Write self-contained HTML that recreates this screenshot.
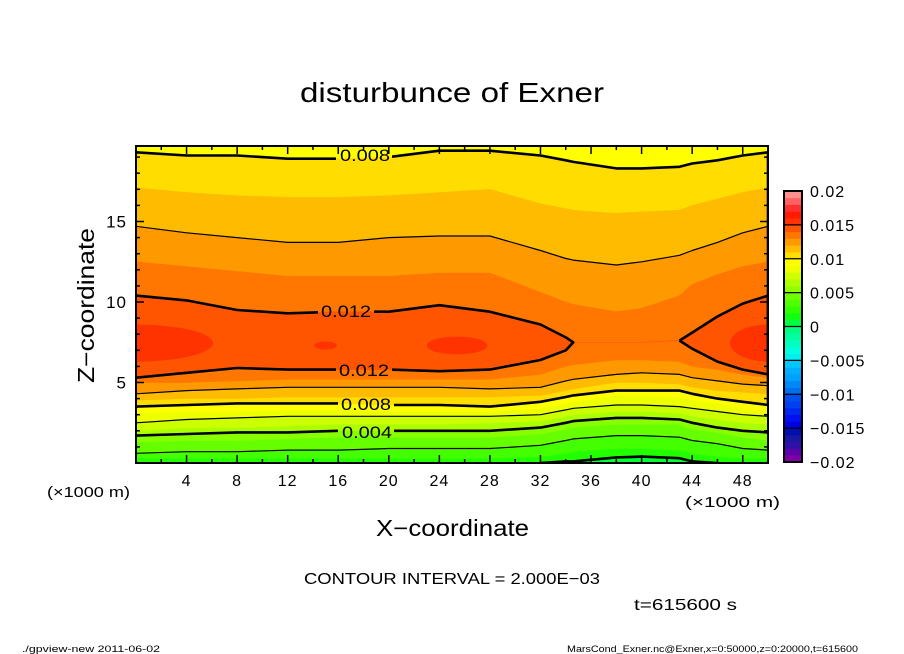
<!DOCTYPE html>
<html><head><meta charset="utf-8"><style>
html,body{margin:0;padding:0;background:#fff;}
svg{display:block;font-family:"Liberation Sans",sans-serif;}
</style></head><body>
<svg id="chart" width="904" height="654" viewBox="0 0 904 654" xmlns="http://www.w3.org/2000/svg">
<rect x="0" y="0" width="904" height="654" fill="#fff"/>
<text x="300" y="102" textLength="304" lengthAdjust="spacingAndGlyphs" font-size="28" fill="#000">disturbunce of Exner</text>
<defs>
<clipPath id="plotclip"><rect x="136" y="146" width="632" height="317"/></clipPath>
<mask id="labelmask" maskUnits="userSpaceOnUse" x="0" y="0" width="904" height="654">
<rect x="0" y="0" width="904" height="654" fill="#fff"/>
<rect x="336" y="146" width="56" height="18" fill="#000"/>
<rect x="318" y="302" width="56" height="18" fill="#000"/>
<rect x="336" y="361" width="56" height="18" fill="#000"/>
<rect x="338" y="395" width="56" height="18" fill="#000"/>
<rect x="338" y="423" width="56" height="18" fill="#000"/>
</mask>
</defs>
<g id="fills" clip-path="url(#plotclip)"></g>
<g id="lines" clip-path="url(#plotclip)" mask="url(#labelmask)"></g>
<g id="clabels" font-size="17" fill="#000">
<text x="340" y="161" textLength="50" lengthAdjust="spacingAndGlyphs">0.008</text>
<text x="321" y="317" textLength="50" lengthAdjust="spacingAndGlyphs">0.012</text>
<text x="339" y="376" textLength="50" lengthAdjust="spacingAndGlyphs">0.012</text>
<text x="341" y="410" textLength="50" lengthAdjust="spacingAndGlyphs">0.008</text>
<text x="342" y="438" textLength="50" lengthAdjust="spacingAndGlyphs">0.004</text>
</g>
<g id="axes"></g>
<rect x="136" y="146" width="632" height="317" fill="none" stroke="#000" stroke-width="2"/>
<text x="47" y="497" textLength="83" lengthAdjust="spacingAndGlyphs" font-size="15">(×1000 m)</text>
<text x="685" y="507" textLength="95" lengthAdjust="spacingAndGlyphs" font-size="15">(×1000 m)</text>
<text x="376" y="536" textLength="153" lengthAdjust="spacingAndGlyphs" font-size="23">X−coordinate</text>
<text transform="translate(94,383) rotate(-90)" textLength="155" lengthAdjust="spacingAndGlyphs" font-size="23">Z−coordinate</text>
<g id="colorbar"></g>
<text x="304" y="584" textLength="296" lengthAdjust="spacingAndGlyphs" font-size="16">CONTOUR INTERVAL = 2.000E−03</text>
<text x="634" y="610" textLength="103" lengthAdjust="spacingAndGlyphs" font-size="16">t=615600 s</text>
<text x="22" y="652" textLength="138" lengthAdjust="spacingAndGlyphs" font-size="9">./gpview-new   2011-06-02</text>
<text x="567" y="652" textLength="291" lengthAdjust="spacingAndGlyphs" font-size="9">MarsCond_Exner.nc@Exner,x=0:50000,z=0:20000,t=615600</text>
</svg>
<script>
// x nodes (km)
var xs = [0,4,8,12,16,20,24,28,32,34,34.6,38,40,43,44,46,48,50];
// lower crossings (km) of each level (units of 0.001)
var lo0 = [0,0,0,0,0,0,0,0,0,0.1,0.1,0.35,0.4,0.3,0.1,0,0,0];
var lo1 = [0.3,0.3,0.3,0.3,0.3,0.3,0.3,0.3,0.4,0.6,0.7,0.9,0.9,0.8,0.6,0.4,0.3,0.3];
var lo2 = [0.6,0.7,0.7,0.8,0.8,0.9,0.9,0.9,1.1,1.4,1.5,1.7,1.7,1.6,1.4,1.2,0.9,0.8];
var lo3 = [1.3,1.4,1.4,1.5,1.6,1.6,1.6,1.6,1.8,2.1,2.2,2.4,2.4,2.4,2.1,1.9,1.6,1.4];
var lo4 = [1.7,1.8,1.9,1.9,2.0,2.0,2.0,2.0,2.2,2.5,2.6,2.8,2.8,2.7,2.5,2.2,2.0,1.9];
var lo5 = [2.0,2.2,2.2,2.3,2.4,2.4,2.4,2.5,2.6,2.9,3.0,3.2,3.2,3.1,2.9,2.7,2.5,2.4];
var lo6 = [2.5,2.7,2.8,2.9,2.9,2.9,2.9,2.9,3.0,3.3,3.4,3.6,3.6,3.5,3.4,3.2,3.0,2.9];
var lo7 = [3.1,3.2,3.2,3.3,3.3,3.2,3.2,3.2,3.4,3.7,3.8,4.2,4.2,4.1,3.9,3.7,3.4,3.2];
var lo8 = [3.5,3.6,3.7,3.7,3.7,3.6,3.6,3.5,3.8,4.1,4.2,4.5,4.5,4.5,4.3,4.0,3.8,3.6];
var lo9 = [3.9,4.0,4.0,4.1,4.1,4.1,4.1,4.1,4.2,4.5,4.6,5.0,5.0,4.9,4.7,4.5,4.4,4.3];
var lo10 = [4.3,4.5,4.6,4.7,4.7,4.7,4.7,4.6,4.7,5.1,5.2,5.5,5.6,5.5,5.3,5.1,4.9,4.8];
var lo11 = [5.0,5.0,5.1,5.2,5.2,5.2,5.2,5.2,5.5,6.0,6.1,6.4,6.4,6.3,6.0,5.8,5.5,5.3];
var lo12 = [5.3,5.6,5.9,5.8,5.8,5.8,5.7,5.8,6.4,7.0,7.5,7.5,7.5,7.6,7.1,6.3,5.8,5.5];
// upper crossings (km)
var up8 = [19.3,19.1,19.1,18.9,18.9,19.0,19.4,19.4,19.1,18.8,18.7,18.3,18.3,18.4,18.6,18.8,19.1,19.3];
var up9 = [17.1,16.8,16.6,16.5,16.5,16.6,16.8,17.0,16.1,15.8,15.7,15.5,15.6,15.7,16.0,16.4,16.8,17.1];
var up10 = [14.7,14.3,14.0,13.7,13.7,14.0,14.1,14.1,13.2,12.7,12.6,12.3,12.5,12.9,13.2,13.7,14.3,14.7];
var up11 = [12.5,12.2,11.9,11.6,11.6,11.6,11.8,11.8,10.6,10.0,9.85,9.4,9.6,10.4,11.1,11.7,12.2,12.5];
var up12 = [10.4,10.1,9.5,9.3,9.4,9.4,9.8,9.4,8.6,7.8,7.5,7.5,7.5,7.6,8.1,9.1,9.9,10.4];
// maxima (>0.013) blobs: centre x, half-width, centre z, half-height (km)
var blobX = [0, 15, 25.4, 50];
var blobRX = [6.1, 0.9, 2.4, 3.0];
var blobZ = [7.45, 7.3, 7.3, 7.45];
var blobRZ = [1.15, 0.25, 0.55, 1.15];
// band colours
var bandColors = ["#22ff00","#44ff00","#66ff00","#88ff00","#aaff00","#ccff00","#eeff00","#ffff00","#ffdd00","#ffbb00","#ff9900","#ff7700","#ff5500","#ff3300"];
var belowColor = "#00ff33";
var xTicks = [4,8,12,16,20,24,28,32,36,40,44,48];
var zTicks = [5,10,15];
var cbLabels = ["0.02","0.015","0.01","0.005","0","−0.005","−0.01","−0.015","−0.02"];
var cbValues = [0.02,0.015,0.01,0.005,0,-0.005,-0.01,-0.015,-0.02];
var cbColors = ["#8000a8","#6000a8","#3010a8","#1818a0","#0010b0","#0000e0","#0010f0","#0028f0","#0040f0","#0050f0","#0070f0","#0088f8","#00a0ff","#00b0ff","#00c8ff","#00f0f0","#00ffe0","#00ffc0","#00ffa0","#00ff80","#00ff40","#10ff10","#30ff00","#50ff00","#70ff00","#90ff00","#b0ff00","#d0ff00","#f0ff00","#ffff00","#ffdd00","#ffbb00","#ff9900","#ff7700","#ff5500","#ff3300","#ff1a00","#ff3030","#ff6060","#ff9090"];

var NS = "http://www.w3.org/2000/svg";
function X(v){ return 136 + v * 12.64; }
function Z(v){ return 463 - v * 16.1; }
function CB(v){ return 462 - (v + 0.02) / 0.04 * 271; }
function mk(tag, attrs, parent){
  var e = document.createElementNS(NS, tag);
  for (var k in attrs) e.setAttribute(k, attrs[k]);
  parent.appendChild(e);
  return e;
}
var lows = [lo0,lo1,lo2,lo3,lo4,lo5,lo6,lo7,lo8,lo9,lo10,lo11,lo12];
var ups = [null,null,null,null,null,null,null,null,up8,up9,up10,up11,up12];

var fills = document.getElementById('fills');
var bg = mk('rect', {x:136, y:146, width:632, height:317, fill:belowColor}, fills);


for (var L = 0; L < lows.length; L++) {
  var lo = lows[L], up = ups[L], d = '';
  for (var i = 0; i < xs.length; i++) d += (i ? 'L' : 'M') + X(xs[i]).toFixed(1) + ',' + Z(up ? up[i] : 21).toFixed(1);
  for (var j = xs.length - 1; j >= 0; j--) d += 'L' + X(xs[j]).toFixed(1) + ',' + Z(lo[j] > 0 ? lo[j] : -0.5).toFixed(1);
  d += 'Z';
  var p = mk('path', {d:d, fill:bandColors[L], stroke:bandColors[L], 'stroke-width':0.5}, fills);
  
  
}
for (var b = 0; b < blobX.length; b++) {
  var el = mk('ellipse', {cx:X(blobX[b]), cy:Z(blobZ[b]), rx:blobRX[b]*12.64, ry:blobRZ[b]*16.1, fill:bandColors[13]}, fills);
  
  
}

var lines = document.getElementById('lines');
var lineLevels = [0,2,4,6,8,10,12];
lineLevels.forEach(function(L){
  var lo = lows[L], up = ups[L], w = (L % 4 === 0) ? 2.6 : 1.2;
  var d = '';
  if (!up) {
    if (L === 0) {
      var started = false;
      for (var i = 0; i < xs.length; i++) {
        var show = lo[i] > 0 || (i > 0 && lo[i-1] > 0) || (i < xs.length-1 && lo[i+1] > 0);
        if (show) { d += (started ? 'L' : 'M') + X(xs[i]).toFixed(1) + ',' + Z(lo[i]).toFixed(1); started = true; }
      }
    } else {
      for (var i = 0; i < xs.length; i++) d += (i ? 'L' : 'M') + X(xs[i]).toFixed(1) + ',' + Z(lo[i]).toFixed(1);
    }
  } else {
    var open = up.map(function(u, i){ return u - lo[i] > 0.01; });
    var i = 0;
    while (i < xs.length) {
      if (!open[i]) { i++; continue; }
      var s = i; while (i < xs.length && open[i]) i++;
      var e = i - 1;
      var s2 = Math.max(0, s - 1), e2 = Math.min(xs.length - 1, e + 1);
      var seg = '';
      for (var k = s2; k <= e2; k++) seg += (k === s2 ? 'M' : 'L') + X(xs[k]).toFixed(1) + ',' + Z(up[k]).toFixed(1);
      for (var k2 = e2; k2 >= s2; k2--) seg += 'L' + X(xs[k2]).toFixed(1) + ',' + Z(lo[k2]).toFixed(1);
      d += seg;
    }
  }
  var p = mk('path', {d:d, fill:'none', stroke:'#000', 'stroke-width':w, 'stroke-linejoin':'round'}, lines);
  
  
});

var axes = document.getElementById('axes');
for (var v = 2; v < 50; v += 2) {
  var len = (v % 4 === 0) ? 8 : 4;
  var t1 = mk('line', {x1:X(v), x2:X(v), y1:463, y2:463-len, stroke:'#000', 'stroke-width':1.5}, axes);
  
  
  var t2 = mk('line', {x1:X(v), x2:X(v), y1:146, y2:146+len, stroke:'#000', 'stroke-width':1.5}, axes);
  
  
}
for (var z = 1; z < 20; z++) {
  var len2 = (z % 5 === 0) ? 8 : 4;
  var t3 = mk('line', {x1:136, x2:136+len2, y1:Z(z), y2:Z(z), stroke:'#000', 'stroke-width':1.5}, axes);
  
  
  var t4 = mk('line', {x1:768, x2:768-len2, y1:Z(z), y2:Z(z), stroke:'#000', 'stroke-width':1.5}, axes);
  
  
}
xTicks.forEach(function(v){
  var t = mk('text', {x:X(v), y:486, 'text-anchor':'middle', 'font-size':16, 'letter-spacing':1}, axes);
  t.textContent = v;
  
  
});
zTicks.forEach(function(v){
  var t = mk('text', {x:127, y:Z(v)+6, 'text-anchor':'end', 'font-size':17, 'letter-spacing':1}, axes);
  t.textContent = v;
  
  
});

var cb = document.getElementById('colorbar');
for (var c = 0; c < cbColors.length; c++) {
  var v0 = -0.02 + c * 0.001;
  var r = mk('rect', {x:784, y:CB(v0+0.001), width:18, height:(CB(v0)-CB(v0+0.001))+0.4, fill:cbColors[c]}, cb);
  
  
}
cbValues.forEach(function(v, i){
  var ln = mk('line', {x1:784, x2:802, y1:CB(v), y2:CB(v), stroke:'#000', 'stroke-width':1.2}, cb);
  
  
  var t = mk('text', {x:810, y:CB(v)+6, 'font-size':16, 'letter-spacing':1}, cb);
  t.textContent = cbLabels[i];
  
  
});
var fr = mk('rect', {x:784, y:CB(0.02), width:18, height:CB(-0.02)-CB(0.02), fill:'none', stroke:'#000', 'stroke-width':2}, cb);


</script>
</body></html>
